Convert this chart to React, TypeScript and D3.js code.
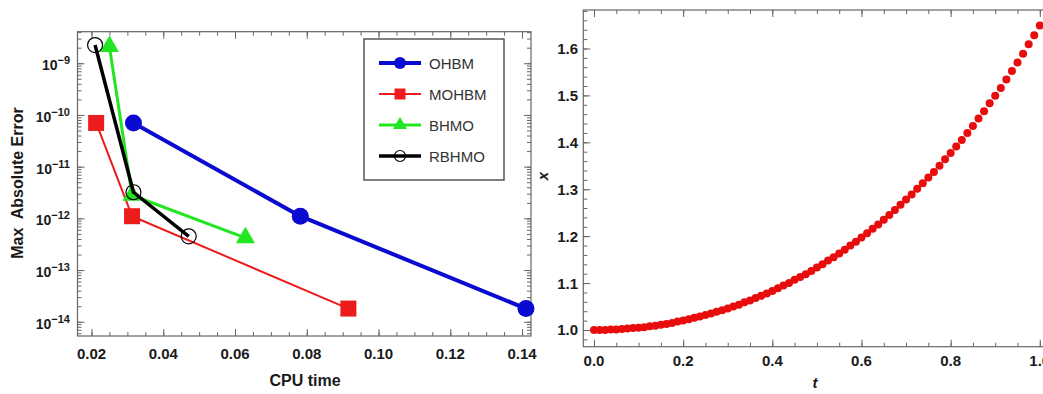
import React, { useEffect, useRef } from 'react';
import * as d3 from 'd3';

// ---- left panel: CPU time vs max absolute error ----
const cpuOHBM = [0.0317, 0.0782, 0.1411];
const errOHBM = [7e-11, 1.1e-12, 1.8e-14];
const cpuMOHBM = [0.0213, 0.0313, 0.0916];
const errMOHBM = [7e-11, 1.1e-12, 1.8e-14];
const cpuBHMO = [0.025, 0.0313, 0.0629];
const errBHMO = [2.1e-9, 2.8e-12, 4.2e-13];
const cpuRBHMO = [0.021, 0.0317, 0.0471];
const errRBHMO = [2.25e-9, 3.2e-12, 4.5e-13];
const methodNames = ['OHBM', 'MOHBM', 'BHMO', 'RBHMO'];
const cpuTicks = [0.02, 0.04, 0.06, 0.08, 0.1, 0.12, 0.14];
const errExponents = [-14, -13, -12, -11, -10, -9];

// ---- right panel: x(t) ----
const tValues = [
  0, 0.0125, 0.025, 0.0375, 0.05, 0.0625, 0.075, 0.0875, 0.1, 0.1125,
  0.125, 0.1375, 0.15, 0.1625, 0.175, 0.1875, 0.2, 0.2125, 0.225, 0.2375,
  0.25, 0.2625, 0.275, 0.2875, 0.3, 0.3125, 0.325, 0.3375, 0.35, 0.3625,
  0.375, 0.3875, 0.4, 0.4125, 0.425, 0.4375, 0.45, 0.4625, 0.475, 0.4875,
  0.5, 0.5125, 0.525, 0.5375, 0.55, 0.5625, 0.575, 0.5875, 0.6, 0.6125,
  0.625, 0.6375, 0.65, 0.6625, 0.675, 0.6875, 0.7, 0.7125, 0.725, 0.7375,
  0.75, 0.7625, 0.775, 0.7875, 0.8, 0.8125, 0.825, 0.8375, 0.85, 0.8625,
  0.875, 0.8875, 0.9, 0.9125, 0.925, 0.9375, 0.95, 0.9625, 0.975, 0.9875, 1.0,
];
const xValues = [
  1.0, 1.0, 1.0, 1.001, 1.001, 1.002, 1.003, 1.004, 1.005, 1.006,
  1.008, 1.009, 1.011, 1.013, 1.015, 1.018, 1.02, 1.023, 1.026, 1.029,
  1.032, 1.035, 1.039, 1.042, 1.046, 1.05, 1.054, 1.059, 1.063, 1.068,
  1.073, 1.078, 1.083, 1.089, 1.095, 1.1, 1.107, 1.113, 1.119, 1.126,
  1.133, 1.14, 1.148, 1.155, 1.163, 1.171, 1.18, 1.188, 1.197, 1.206,
  1.216, 1.225, 1.235, 1.245, 1.256, 1.267, 1.278, 1.289, 1.301, 1.313,
  1.325, 1.337, 1.35, 1.364, 1.377, 1.391, 1.405, 1.42, 1.435, 1.451,
  1.466, 1.483, 1.499, 1.516, 1.534, 1.552, 1.57, 1.589, 1.609, 1.628, 1.649,
];
const tTicks = [0, 0.2, 0.4, 0.6, 0.8, 1.0];
const xTicks = [1.0, 1.1, 1.2, 1.3, 1.4, 1.5, 1.6];

const FONT = '"Liberation Sans", Arial, sans-serif';
const FRAME = '#666';
const LABEL = '#1a1a1a';

type Sel = d3.Selection<SVGGElement, unknown, null, undefined>;

// Mathematica-style frame: inward ticks on all four sides
function frameTicks(g: Sel, x: any, y: any, xMajor: number[], xMinor: number[], yMajor: number[], yMinor: number[]) {
  const [x0, x1] = x.range();
  const [y0, y1] = y.range();
  const sets: [any, number, number[], number][] = [
    [d3.axisBottom(x), y0, xMajor, 7], [d3.axisBottom(x), y0, xMinor, 4],
    [d3.axisTop(x), y1, xMajor, 7], [d3.axisTop(x), y1, xMinor, 4],
  ];
  sets.forEach(([ax, pos, vals, size]) => {
    g.append('g').attr('transform', `translate(0,${pos})`)
      .call(ax.tickValues(vals).tickSize(-size).tickFormat(() => ''));
  });
  const ysets: [any, number, number[], number][] = [
    [d3.axisLeft(y), x0, yMajor, 7], [d3.axisLeft(y), x0, yMinor, 4],
    [d3.axisRight(y), x1, yMajor, 7], [d3.axisRight(y), x1, yMinor, 4],
  ];
  ysets.forEach(([ax, pos, vals, size]) => {
    g.append('g').attr('transform', `translate(${pos},0)`)
      .call(ax.tickValues(vals).tickSize(-size).tickFormat(() => ''));
  });
  g.selectAll('.domain').remove();
  g.selectAll('.tick line').attr('stroke', FRAME).attr('stroke-width', 1);
  g.append('rect')
    .attr('x', x0).attr('y', y1).attr('width', x1 - x0).attr('height', y0 - y1)
    .attr('fill', 'none').attr('stroke', FRAME).attr('stroke-width', 1.2);
}

function drawMarker(g: any, kind: string, cx: number, cy: number, s: number, color: string) {
  if (kind === 'circle') {
    g.append('circle').attr('cx', cx).attr('cy', cy).attr('r', s).attr('fill', color);
  } else if (kind === 'square') {
    g.append('rect').attr('x', cx - s).attr('y', cy - s).attr('width', 2 * s).attr('height', 2 * s).attr('fill', color);
  } else if (kind === 'triangle') {
    g.append('path').attr('transform', `translate(${cx},${cy})`)
      .attr('d', d3.symbol(d3.symbolTriangle, s * s * 1.75)()).attr('fill', color);
  } else {
    g.append('circle').attr('cx', cx).attr('cy', cy).attr('r', s)
      .attr('fill', 'none').attr('stroke', color).attr('stroke-width', 1.2);
  }
}

function drawLeft(root: Sel) {
  const x = d3.scaleLinear().domain([0.0161, 0.1425]).range([77.5, 531]);
  const y = d3.scaleLog().domain([Math.pow(10, -14.275), Math.pow(10, -8.39)]).range([336, 31.7]);

  const series = [
    { cpu: cpuOHBM, err: errOHBM, color: '#0a0ad0', width: 4, marker: 'circle', size: 8.5, lsize: 6 },
    { cpu: cpuMOHBM, err: errMOHBM, color: '#ec1c1c', width: 2, marker: 'square', size: 8, lsize: 5.5 },
    { cpu: cpuBHMO, err: errBHMO, color: '#22e622', width: 3, marker: 'triangle', size: 9.5, lsize: 7 },
    { cpu: cpuRBHMO, err: errRBHMO, color: '#000', width: 3.5, marker: 'open', size: 7.5, lsize: 5.5 },
  ];

  root.append('clipPath').attr('id', 'leftClip')
    .append('rect').attr('x', 0).attr('y', 0).attr('width', 538).attr('height', 394);
  const g = root.append('g').attr('clip-path', 'url(#leftClip)');

  const xMinor = d3.range(0.02, 0.1426, 0.005).map(v => +v.toFixed(3)).filter(v => v >= 0.0161);
  const yMajor = errExponents.map(e => Math.pow(10, e));
  frameTicks(g, x, y, cpuTicks, xMinor, yMajor, y.ticks());

  series.forEach(s => {
    const pts = s.cpu.map((c, i) => [x(c), y(s.err[i])] as [number, number]);
    g.append('path').attr('d', d3.line()(pts)).attr('fill', 'none')
      .attr('stroke', s.color).attr('stroke-width', s.width).attr('stroke-linejoin', 'round');
    pts.forEach(p => drawMarker(g, s.marker, p[0], p[1], s.size, s.color));
  });

  // tick labels
  g.selectAll('.xl').data(cpuTicks).enter().append('text')
    .attr('x', d => x(d)).attr('y', 359).attr('text-anchor', 'middle')
    .attr('font-family', FONT).attr('font-weight', 'bold').attr('font-size', 15).attr('fill', LABEL)
    .text(d => d.toFixed(2));
  errExponents.forEach(e => {
    const t = g.append('text').attr('x', 70).attr('y', y(Math.pow(10, e)) + 7)
      .attr('text-anchor', 'end').attr('font-family', FONT).attr('font-weight', 'bold')
      .attr('font-size', 14).attr('fill', LABEL);
    t.append('tspan').text('10');
    t.append('tspan').attr('dy', -6).attr('font-size', 11).text(`\u2212${-e}`);
  });

  // axis titles
  g.append('text').attr('transform', 'translate(23,183) rotate(-90)').attr('text-anchor', 'middle')
    .attr('font-family', FONT).attr('font-weight', 'bold').attr('font-size', 16).attr('fill', LABEL)
    .attr('xml:space', 'preserve').text('Max  Absolute Error');
  g.append('text').attr('x', 305).attr('y', 386).attr('text-anchor', 'middle')
    .attr('font-family', FONT).attr('font-weight', 'bold').attr('font-size', 16).attr('fill', LABEL)
    .text('CPU time');

  // legend
  const lg = g.append('g');
  lg.append('rect').attr('x', 364).attr('y', 39).attr('width', 140).attr('height', 141)
    .attr('fill', '#fff').attr('stroke', '#555').attr('stroke-width', 1.5);
  series.forEach((s, i) => {
    const ly = 63 + i * 31;
    lg.append('line').attr('x1', 379).attr('x2', 421).attr('y1', ly).attr('y2', ly)
      .attr('stroke', s.color).attr('stroke-width', s.width);
    drawMarker(lg, s.marker, 400, ly, s.lsize, s.color);
    lg.append('text').attr('x', 429).attr('y', ly + 5.5)
      .attr('font-family', FONT).attr('font-size', 15).attr('fill', '#333').text(methodNames[i]);
  });
}

function drawRight(g: Sel) {
  const x = d3.scaleLinear().domain([-0.024, 1.024]).range([583.3, 1050.5]);
  const y = d3.scaleLinear().domain([0.9644, 1.682]).range([346.7, 10]);

  const tMinor = d3.range(0, 1.0001, 0.05).map(v => +v.toFixed(2));
  const xMinor = d3.range(0.98, 1.681, 0.02).map(v => +v.toFixed(2));
  frameTicks(g, x, y, tTicks, tMinor, xTicks, xMinor);

  g.selectAll('.pt').data(tValues).enter().append('circle')
    .attr('cx', d => x(d)).attr('cy', (d, i) => y(xValues[i])).attr('r', 4)
    .attr('fill', '#e80c0c');

  g.selectAll('.xl').data(tTicks).enter().append('text')
    .attr('x', d => x(d)).attr('y', 366).attr('text-anchor', 'middle')
    .attr('font-family', FONT).attr('font-weight', 'bold').attr('font-size', 15).attr('fill', LABEL)
    .text(d => d.toFixed(1));
  g.selectAll('.yl').data(xTicks).enter().append('text')
    .attr('x', 578).attr('y', d => y(d) + 5.5).attr('text-anchor', 'end')
    .attr('font-family', FONT).attr('font-weight', 'bold').attr('font-size', 15).attr('fill', LABEL)
    .text(d => d.toFixed(1));

  g.append('text').attr('x', 815).attr('y', 388).attr('text-anchor', 'middle')
    .attr('font-family', FONT).attr('font-weight', 'bold').attr('font-style', 'italic')
    .attr('font-size', 15).attr('fill', LABEL).text('t');
  g.append('text').attr('transform', 'translate(548,176) rotate(-90)').attr('text-anchor', 'middle')
    .attr('font-family', FONT).attr('font-weight', 'bold').attr('font-style', 'italic')
    .attr('font-size', 15).attr('fill', LABEL).text('x');
}

export default function App() {
  const svgRef = useRef<SVGSVGElement>(null);

  useEffect(() => {
    const svg = d3.select(svgRef.current);
    svg.selectAll('*').remove();
    drawLeft(svg.append('g') as Sel);
    drawRight(svg.append('g') as Sel);
  }, []);

  return (
    <svg ref={svgRef} width={1043} height={394}
      style={{ position: 'absolute', left: 0, top: 0, background: '#fff' }} />
  );
}
